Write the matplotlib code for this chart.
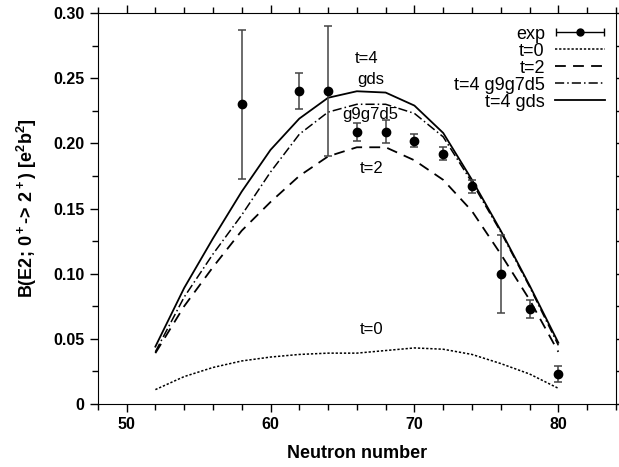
import numpy as np
import matplotlib
matplotlib.use("Agg")
import matplotlib.pyplot as plt
from matplotlib.legend_handler import HandlerErrorbar
from matplotlib.container import ErrorbarContainer

plt.rcParams["font.family"] = ["Liberation Sans", "DejaVu Sans"]
plt.rcParams["mathtext.fontset"] = "custom"
plt.rcParams["mathtext.bf"] = "Liberation Sans:bold"
plt.rcParams["mathtext.rm"] = "Liberation Sans"

# experimental B(E2) values
n_exp = [58, 62, 64, 66, 68, 70, 72, 74, 76, 78, 80]
b_exp = [0.230, 0.240, 0.240, 0.209, 0.209, 0.202, 0.192, 0.167, 0.100, 0.073, 0.023]
b_err = [0.057, 0.014, 0.050, 0.007, 0.009, 0.005, 0.005, 0.005, 0.030, 0.007, 0.006]

# shell model curves
n_th = [52, 54, 56, 58, 60, 62, 64, 66, 68, 70, 72, 74, 76, 78, 80]
t0 = [0.011, 0.021, 0.028, 0.033, 0.036, 0.038, 0.039, 0.039, 0.041, 0.043, 0.042, 0.038, 0.031, 0.023, 0.012]
t2 = [0.039, 0.075, 0.105, 0.133, 0.155, 0.175, 0.190, 0.197, 0.197, 0.187, 0.172, 0.148, 0.115, 0.080, 0.040]
t4_g9g7d5 = [0.040, 0.082, 0.115, 0.145, 0.178, 0.207, 0.224, 0.230, 0.230, 0.223, 0.205, 0.170, 0.132, 0.090, 0.045]
t4_gds = [0.044, 0.089, 0.127, 0.163, 0.195, 0.219, 0.235, 0.240, 0.239, 0.229, 0.208, 0.172, 0.133, 0.091, 0.047]

fig = plt.figure(figsize=(6.19, 4.67), dpi=100)
ax = fig.add_axes([0.158, 0.135, 0.837, 0.837])

ax.plot(n_th, t0, color="k", lw=1.1, ls=(0, (1.5, 1.2)))
ax.plot(n_th, t2, color="k", lw=1.3, ls=(0, (6, 4)))
ax.plot(n_th, t4_g9g7d5, color="k", lw=1.1, ls=(0, (6, 2, 1, 2)))
ax.plot(n_th, t4_gds, color="k", lw=1.3, ls="-")
ax.errorbar(n_exp, b_exp, yerr=b_err, fmt="o", color="k", ms=6,
            ecolor="#444444", elinewidth=1.1, capsize=3, capthick=1.1)

# dummy horizontal errorbar for the legend handle
dummy = ax.errorbar([np.nan], [np.nan], xerr=[1], fmt="o", color="k", ms=5,
                    ecolor="k", elinewidth=1.0, capsize=3)
lines = ax.get_lines()
handles = [dummy, lines[0], lines[1], lines[2], lines[3]]
labels = ["exp", "t=0", "t=2", "t=4 g9g7d5", "t=4 gds"]
ax.legend(handles, labels, loc="upper right", bbox_to_anchor=(0.99, 0.982),
          frameon=False, markerfirst=False, fontsize=13, labelspacing=0.0,
          handlelength=2.8, handletextpad=0.55, borderaxespad=0.1,
          borderpad=0.2,
          handler_map={ErrorbarContainer: HandlerErrorbar(xerr_size=1.35)})

for txt, x, y in [("t=4", 66.7, 0.265), ("gds", 67.0, 0.249), ("g9g7d5", 66.9, 0.222),
                  ("t=2", 67.0, 0.181), ("t=0", 67.0, 0.0575)]:
    ax.text(x, y, txt, ha="center", va="center", fontsize=12)

ax.set_xlim(48, 84)
ax.set_ylim(0, 0.30)
ax.set_xticks([50, 60, 70, 80])
ax.set_xticks(np.arange(48, 85, 2), minor=True)
ax.set_yticks([0, 0.05, 0.10, 0.15, 0.20, 0.25, 0.30])
ax.set_yticklabels(["0", "0.05", "0.10", "0.15", "0.20", "0.25", "0.30"])
ax.set_yticks(np.arange(0, 0.301, 0.025), minor=True)
ax.tick_params(which="both", direction="out", top=True, right=True, labelsize=11.5)
ax.tick_params(which="major", length=6, width=1)
ax.tick_params(which="minor", length=4, width=1)
for lab in ax.get_xticklabels() + ax.get_yticklabels():
    lab.set_fontweight("bold")

ax.set_xlabel("Neutron number", fontsize=13, fontweight="bold", labelpad=9)
ax.set_ylabel(r"B(E2; 0$\mathbf{^+}$-> 2$\mathbf{^+}$) [e$\mathbf{^2}$b$\mathbf{^2}$]",
              fontsize=13, fontweight="bold", labelpad=10)

fig.savefig("out.png", dpi=100)
